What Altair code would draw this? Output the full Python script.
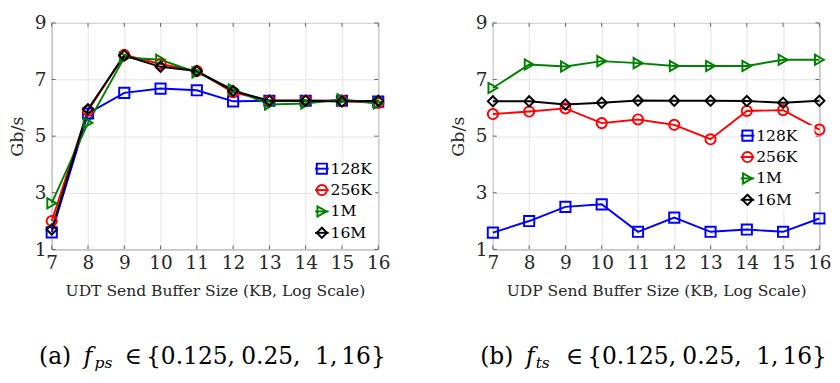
import altair as alt
import pandas as pd

# ---------------- data ----------------
x_kb = [7, 8, 9, 10, 11, 12, 13, 14, 15, 16]
series = ["128K", "256K", "1M", "16M"]
colors = ["#0000ff", "#ff0000", "#008000", "#000000"]
shapes = ["square", "circle", "triangle-right", "diamond"]
y_ticks = [1, 3, 5, 7, 9]

udt_128k = [1.60, 5.80, 6.53, 6.68, 6.62, 6.23, 6.25, 6.25, 6.25, 6.22]
udt_256k = [2.00, 5.90, 7.87, 7.55, 7.30, 6.55, 6.25, 6.25, 6.25, 6.17]
udt_1m = [2.63, 5.47, 7.78, 7.70, 7.25, 6.65, 6.12, 6.15, 6.30, 6.15]
udt_16m = [1.70, 5.95, 7.85, 7.45, 7.30, 6.60, 6.25, 6.25, 6.22, 6.25]

udp_128k = [1.59, 2.00, 2.50, 2.59, 1.62, 2.12, 1.62, 1.70, 1.62, 2.09]
udp_256k = [5.78, 5.87, 5.98, 5.46, 5.59, 5.40, 4.89, 5.89, 5.92, 5.23]
udp_1m = [6.70, 7.53, 7.46, 7.65, 7.58, 7.48, 7.48, 7.48, 7.70, 7.70]
udp_16m = [6.23, 6.23, 6.12, 6.18, 6.26, 6.25, 6.25, 6.24, 6.18, 6.25]


def long_df(cols):
    rows = []
    for name, vals in zip(series, cols):
        for xv, yv in zip(x_kb, vals):
            rows.append({"series": name, "x": xv, "y": yv})
    return pd.DataFrame(rows)


df_udt = long_df([udt_128k, udt_256k, udt_1m, udt_16m])
df_udp = long_df([udp_128k, udp_256k, udp_1m, udp_16m])
df_xt = pd.DataFrame({"x": x_kb})
df_yt = pd.DataFrame({"y": y_ticks})
one = pd.DataFrame({"a": [0]})

SERIF = "DejaVu Serif"
W, H = 336, 233
FRAME = "#606060"
TXT = "#262626"


def caption(pieces):
    layers = []
    for text, x, y, size, style in pieces:
        layers.append(
            alt.Chart(one).mark_text(
                text=text, font=SERIF, fontSize=size, fontStyle=style,
                align="left", baseline="alphabetic", color="black"
            ).encode(x=alt.value(x), y=alt.value(y))
        )
    return layers


def legend(lx, ly, box, step=22):
    layers = [
        alt.Chart(one).mark_rect(fill="white").encode(
            x=alt.value(box[0]), x2=alt.value(box[1]),
            y=alt.value(box[2]), y2=alt.value(box[3]))
    ]
    for i, (name, col, shp) in enumerate(zip(series, colors, shapes)):
        yy = ly + i * step
        layers.append(alt.Chart(one).mark_rule(color=col, strokeWidth=2).encode(
            x=alt.value(lx - 7), x2=alt.value(lx + 7), y=alt.value(yy)))
        layers.append(alt.Chart(one).mark_point(
            shape=shp, color=col, filled=False, size=110, strokeWidth=2, opacity=1
        ).encode(x=alt.value(lx), y=alt.value(yy)))
        layers.append(alt.Chart(one).mark_text(
            text=name, font=SERIF, fontSize=16, align="left", baseline="middle", color="black"
        ).encode(x=alt.value(lx + 9), y=alt.value(yy)))
    return layers


def panel(df, xtitle, leg, cap):
    xs = alt.Scale(domain=[7, 16], nice=False)
    ys = alt.Scale(domain=[1, 9], nice=False)
    cscale = alt.Scale(domain=series, range=colors)
    sscale = alt.Scale(domain=series, range=shapes)
    x_enc = alt.X("x:Q", scale=xs, axis=alt.Axis(
        values=x_kb, title=xtitle, format="d", grid=True, labelFlush=False))
    y_enc = alt.Y("y:Q", scale=ys, axis=alt.Axis(
        values=y_ticks, title="Gb/s", format="d", grid=True, labelFlush=False))
    c_enc = alt.Color("series:N", scale=cscale, legend=None)
    s_enc = alt.Shape("series:N", scale=sscale, legend=None)

    lines = alt.Chart(df).mark_line(strokeWidth=2).encode(
        x=x_enc, y=y_enc, color=c_enc, order=alt.Order("x:Q"),
    )
    pts = alt.Chart(df).mark_point(filled=False, size=110, strokeWidth=2, opacity=1).encode(
        x=x_enc, y=y_enc, color=c_enc, shape=s_enc,
    )
    tb = alt.Chart(df_xt).mark_rule(color=FRAME, strokeWidth=1).encode(
        x=x_enc, y=alt.value(H), y2=alt.value(H - 4))
    tt = alt.Chart(df_xt).mark_rule(color=FRAME, strokeWidth=1).encode(
        x=x_enc, y=alt.value(0), y2=alt.value(4))
    tl = alt.Chart(df_yt).mark_rule(color=FRAME, strokeWidth=1).encode(
        y=y_enc, x=alt.value(0), x2=alt.value(4))
    tr = alt.Chart(df_yt).mark_rule(color=FRAME, strokeWidth=1).encode(
        y=y_enc, x=alt.value(W - 4), x2=alt.value(W))
    return alt.layer(lines, pts, tb, tt, tl, tr, *leg, *caption(cap)).properties(width=W, height=H)


CY = 351
cap_a = [
    ("(a)", -13, CY, 24, "normal"),
    ("f", 33, CY, 24, "italic"),
    ("ps", 44, CY + 4, 16, "italic"),
    ("\u2208", 75, CY, 24, "normal"),
    ("{0.125,", 97, CY, 24, "normal"),
    ("0.25,", 195, CY, 24, "normal"),
    ("1,", 271, CY, 24, "normal"),
    ("16}", 298, CY, 24, "normal"),
]
cap_b = [
    ("(b)", -13, CY, 24, "normal"),
    ("f", 34, CY, 24, "italic"),
    ("ts", 44, CY + 4, 16, "italic"),
    ("\u2208", 75, CY, 24, "normal"),
    ("{0.125,", 97, CY, 24, "normal"),
    ("0.25,", 195, CY, 24, "normal"),
    ("1,", 271, CY, 24, "normal"),
    ("16}", 298, CY, 24, "normal"),
]

left = panel(df_udt, "UDT Send Buffer Size (KB, Log Scale)",
             legend(278, 150, (269, 333, 139, 226)), cap_a)
right = panel(df_udp, "UDP Send Buffer Size (KB, Log Scale)",
              legend(262, 116, (253, 331, 105, 193)), cap_b)

chart = alt.hconcat(left, right, spacing=60).properties(padding=0).configure_view(
    stroke=FRAME, strokeWidth=1
).configure_axis(
    domain=False, ticks=False, grid=True, gridColor="#e2e2e2", gridWidth=1,
    labelFont=SERIF, labelFontSize=19, labelColor=TXT,
    titleFont=SERIF, titleFontWeight="normal", titleColor=TXT,
).configure_axisX(
    labelPadding=5, titleFontSize=16, titlePadding=11,
).configure_axisY(
    labelPadding=6, titleFontSize=18, titlePadding=8,
)

chart.save("out.html", embed_options={"renderer": "svg", "actions": False})
